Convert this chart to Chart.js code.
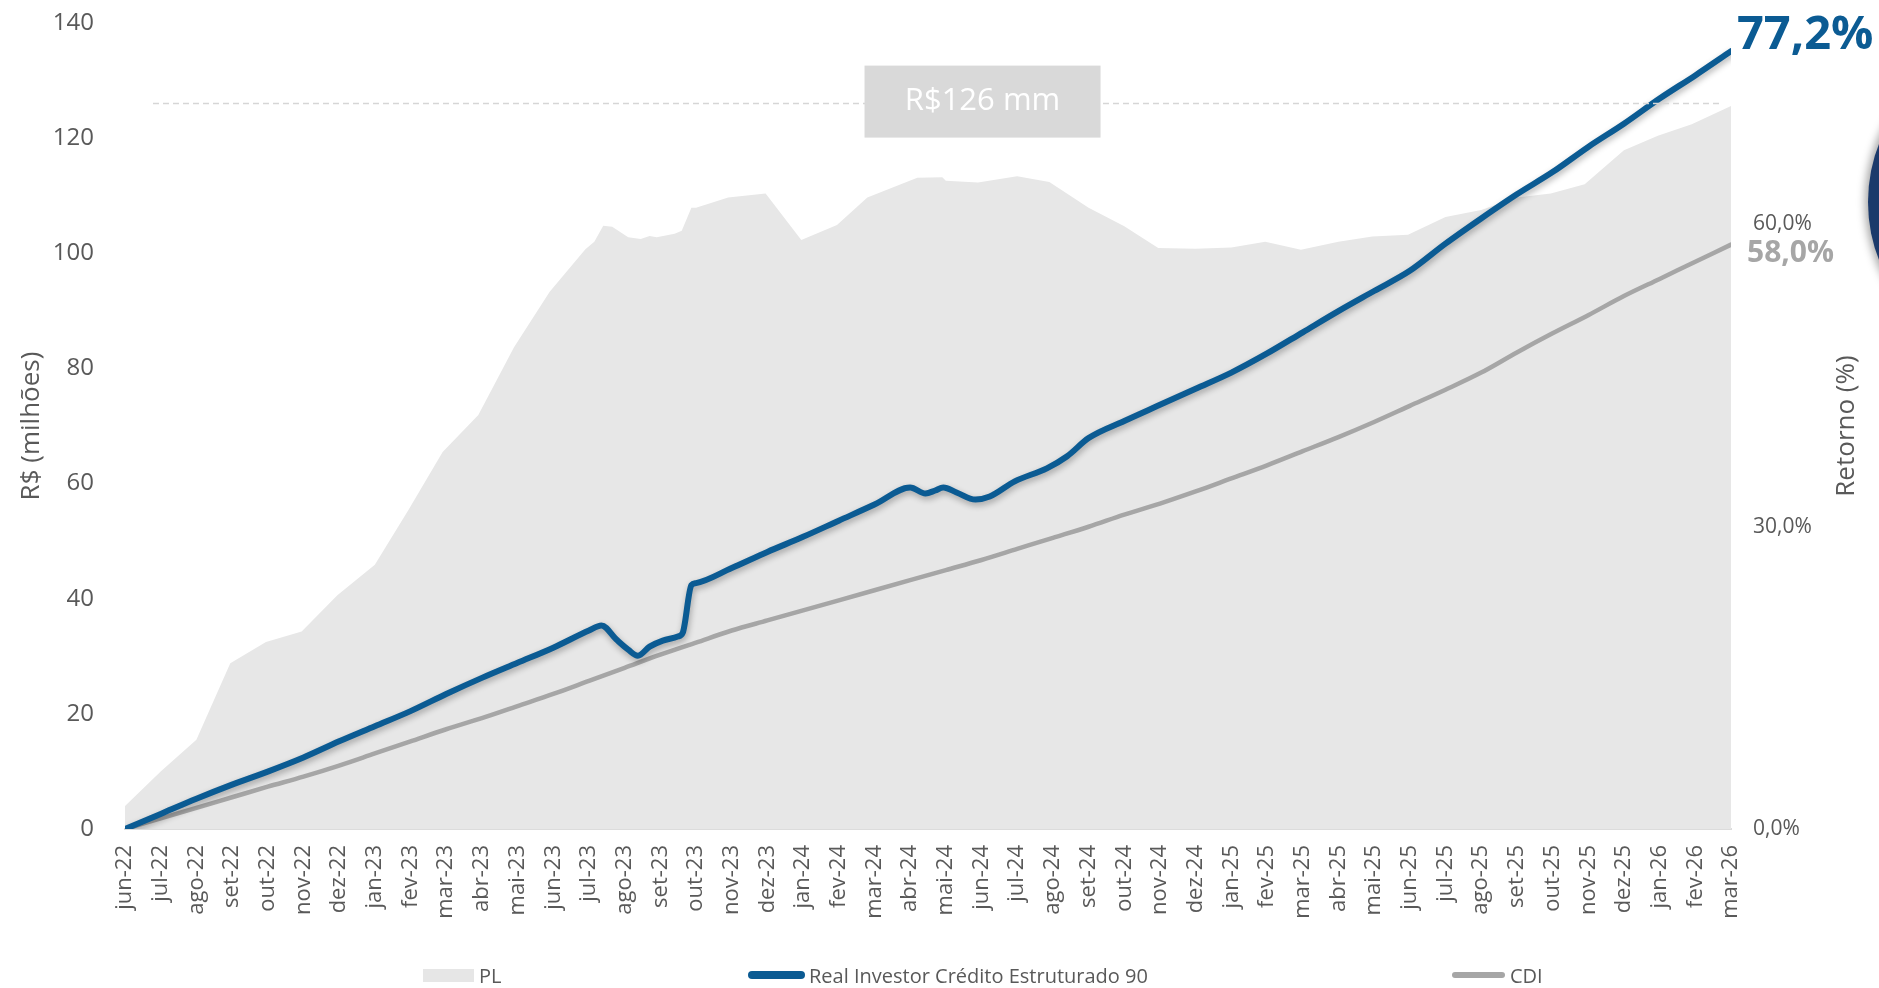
<!DOCTYPE html>
<html lang="pt-BR">
<head>
<meta charset="utf-8">
<title>PL x Retorno</title>
<script src="https://cdn.jsdelivr.net/npm/chart.js@4.4.1/dist/chart.umd.min.js"></script>
<style>
  html, body { margin: 0; padding: 0; background: #fff; }
  #wrap { position: relative; width: 1879px; height: 988px; overflow: hidden; font-family: 'Open Sans', sans-serif; }
  #chart { position: absolute; left: 0; top: 0; }
  .lg { position: absolute; top: 962px; height: 26px; display: flex; align-items: center; font-size: 20px; color: #595959; white-space: nowrap; }
  .lg span { display: inline-block; }
  .logo { position: absolute; left: 1868px; top: 42px; width: 320px; height: 320px; border-radius: 50%;
          background: #1b3a6b; box-shadow: 0 0 8px 3px rgba(0,0,0,0.35); }
</style>
</head>
<body>
<div id="wrap">
  <canvas id="chart" width="1879" height="988"></canvas>
  <div class="lg" style="left:423px"><span style="width:51px;height:13px;background:#e6e6e6;margin-right:5px"></span>PL</div>
  <div class="lg" style="left:748px"><span style="width:57px;height:8px;border-radius:4px;background:#0b5b93;margin-right:4px"></span>Real Investor Crédito Estruturado 90</div>
  <div class="lg" style="left:1452px"><span style="width:53px;height:6px;border-radius:3px;background:#a6a6a6;margin-right:5px"></span>CDI</div>
  <div class="logo"></div>
</div>
<script>
// eixo x: meses
const months = ['jun-22','jul-22','ago-22','set-22','out-22','nov-22','dez-22',
  'jan-23','fev-23','mar-23','abr-23','mai-23','jun-23','jul-23','ago-23','set-23','out-23','nov-23','dez-23',
  'jan-24','fev-24','mar-24','abr-24','mai-24','jun-24','jul-24','ago-24','set-24','out-24','nov-24','dez-24',
  'jan-25','fev-25','mar-25','abr-25','mai-25','jun-25','jul-25','ago-25','set-25','out-25','nov-25','dez-25',
  'jan-26','fev-26','mar-26'];

// PL (R$ milhões) - posição em meses desde jun-22
const plX = [0, 1, 2, 2.95, 3.95, 4.95, 5.95, 7, 7.95, 8.9, 9.9, 10.9, 11.9, 12.9, 13.15, 13.4, 13.65, 14.1, 14.45, 14.7,
  14.9, 15.4, 15.6, 15.87, 16, 16.9, 17.95, 18.95, 19.95, 20.8, 22.2, 22.9, 23, 23.9, 25, 25.9, 27, 28, 28.95, 30,
  31, 31.95, 32.95, 34, 34.95, 35.95, 37, 38, 39, 39.95, 40.9, 42, 42.95, 43.9, 45];
const plY = [4.0, 10.0, 15.5, 28.8, 32.5, 34.3, 40.6, 45.9, 55.5, 65.5, 71.9, 83.7, 93.3, 100.7, 102, 104.8, 104.6, 102.8, 102.5, 103,
  102.8, 103.4, 103.9, 107.9, 107.9, 109.7, 110.4, 102.3, 104.9, 109.7, 113.1, 113.2, 112.6, 112.3, 113.4, 112.4, 107.9, 104.7, 100.9, 100.8,
  101, 102, 100.6, 102, 102.9, 103.2, 106.3, 107.5, 109.7, 110.4, 112, 117.9, 120.4, 122.4, 125.6];

// Retorno do fundo (%)
const fundX = [0, 1, 2, 3, 4, 5, 6, 7, 8, 9, 10, 11, 12, 13,
  13.35, 13.77, 14.1, 14.37, 14.7, 15.07, 15.49, 15.63, 15.87, 16,
  17, 18, 19, 20, 21, 22,
  22.43, 22.7, 22.93, 23.3, 23.83, 24.23, 24.93, 25.83, 26.4,
  27, 28, 29, 30, 31, 32, 33, 34, 35, 36, 37, 38, 39, 40, 41, 42, 43, 44, 45];
const fundY = [0, 1.5, 3.0, 4.4, 5.7, 7.1, 8.7, 10.2, 11.7, 13.4, 15.0, 16.5, 18.0, 19.7,
  20.2, 18.8, 17.8, 17.2, 18.1, 18.7, 19.1, 19.5, 24.2, 24.4,
  25.9, 27.5, 29.0, 30.6, 32.2, 33.9,
  33.3, 33.6, 33.9, 33.4, 32.7, 33.0, 34.5, 35.8, 37.0,
  38.8, 40.5, 42.1, 43.7, 45.3, 47.2, 49.3, 51.4, 53.4, 55.4, 58.1, 60.6, 63.0, 65.2, 67.7, 70.0, 72.5, 74.8, 77.2];

// CDI acumulado (%) - mensal
const cdiY = [0, 1.05, 2.1, 3.15, 4.2, 5.2, 6.3, 7.5, 8.7, 9.9, 11.0, 12.2, 13.4, 14.7, 16.0, 17.3, 18.5, 19.7, 20.7, 21.7,
  22.7, 23.7, 24.7, 25.7, 26.7, 27.8, 28.9, 30.0, 31.2, 32.3, 33.5, 34.8, 36.1, 37.5, 38.9, 40.4, 42.0, 43.6, 45.3, 47.3,
  49.2, 51.0, 52.9, 54.6, 56.3, 58.0];

const plMark = 126;
const leftTicks = [0, 20, 40, 60, 80, 100, 120, 140];
const rightTicks = [0, 30, 60];

const FONT = "'Open Sans', sans-serif";
const pct = v => v.toFixed(1).replace('.', ',') + '%';

// sombra na linha do fundo
const lineShadow = {
  id: 'lineShadow',
  beforeDatasetDraw(chart, args) {
    if (args.index === 1) {
      const ctx = chart.ctx;
      ctx.save();
      ctx.shadowColor = 'rgba(0,0,0,0.3)';
      ctx.shadowBlur = 6;
      ctx.shadowOffsetX = 1;
      ctx.shadowOffsetY = 3;
    }
  },
  afterDatasetDraw(chart, args) {
    if (args.index === 1) chart.ctx.restore();
  }
};

// linha do PL atual, caixa, rótulos finais e título do eixo direito
const overlay = {
  id: 'overlay',
  afterDatasetsDraw(chart) {
    const { ctx, chartArea, scales } = chart;
    const yPL = scales.y.getPixelForValue(plMark);
    ctx.save();
    ctx.strokeStyle = '#d6d6d6';
    ctx.lineWidth = 1.5;
    ctx.setLineDash([6, 4]);
    ctx.beginPath();
    ctx.moveTo(chartArea.left + 28, yPL);
    ctx.lineTo(chartArea.right - 12, yPL);
    ctx.stroke();
    ctx.setLineDash([]);

    const bx = scales.x.getPixelForValue(24);
    ctx.fillStyle = '#d9d9d9';
    ctx.fillRect(bx - 117, yPL - 38, 236, 72);
    ctx.fillStyle = '#ffffff';
    ctx.font = '31px ' + FONT;
    ctx.textAlign = 'center';
    ctx.textBaseline = 'middle';
    ctx.fillText('R$' + plMark + ' mm', bx + 1, yPL - 2);

    const fEnd = scales.y1.getPixelForValue(fundY[fundY.length - 1]);
    const cEnd = scales.y1.getPixelForValue(cdiY[cdiY.length - 1]);
    ctx.textAlign = 'left';
    ctx.textBaseline = 'alphabetic';
    ctx.fillStyle = '#0b5b93';
    ctx.font = 'bold 47px ' + FONT;
    ctx.fillText(pct(fundY[fundY.length - 1]), chartArea.right + 6, fEnd - 2);
    ctx.fillStyle = '#a6a6a6';
    ctx.font = 'bold 30px ' + FONT;
    ctx.fillText(pct(cdiY[cdiY.length - 1]), chartArea.right + 16, cEnd + 17);

    ctx.translate(chartArea.right + 116, (chartArea.top + chartArea.bottom) / 2);
    ctx.rotate(-Math.PI / 2);
    ctx.textAlign = 'center';
    ctx.textBaseline = 'middle';
    ctx.fillStyle = '#595959';
    ctx.font = '26px ' + FONT;
    ctx.fillText('Retorno (%)', 0, 0);
    ctx.restore();
  }
};

new Chart(document.getElementById('chart'), {
  type: 'line',
  data: {
    datasets: [
      {
        label: 'PL',
        data: plX.map((x, i) => ({ x, y: plY[i] })),
        yAxisID: 'y',
        borderWidth: 0,
        backgroundColor: '#e7e7e7',
        fill: 'origin',
        pointRadius: 0,
        tension: 0,
        order: 3
      },
      {
        label: 'Real Investor Crédito Estruturado 90',
        data: fundX.map((x, i) => ({ x, y: fundY[i] })),
        yAxisID: 'y1',
        borderColor: '#0b5b93',
        borderWidth: 6,
        borderCapStyle: 'round',
        borderJoinStyle: 'round',
        pointRadius: 0,
        fill: false,
        cubicInterpolationMode: 'monotone',
        order: 1
      },
      {
        label: 'CDI',
        data: cdiY.map((y, i) => ({ x: i, y })),
        yAxisID: 'y1',
        borderColor: '#a6a6a6',
        borderWidth: 4.5,
        borderCapStyle: 'round',
        pointRadius: 0,
        fill: false,
        cubicInterpolationMode: 'monotone',
        order: 2
      }
    ]
  },
  options: {
    responsive: false,
    animation: false,
    layout: { padding: { top: 23, left: 0, right: 0, bottom: 0 } },
    plugins: {
      legend: { display: false },
      tooltip: { enabled: false }
    },
    scales: {
      x: {
        type: 'linear',
        min: 0,
        max: months.length - 1,
        afterFit: s => { s.height = 159; },
        afterBuildTicks: s => { s.ticks = months.map((m, i) => ({ value: i })); },
        grid: { display: false, drawTicks: false },
        border: { display: true, color: '#dcdcdc', width: 2 },
        ticks: {
          autoSkip: false,
          minRotation: 90,
          maxRotation: 90,
          padding: 16,
          color: '#595959',
          font: { family: FONT, size: 22 },
          callback: v => months[v]
        }
      },
      y: {
        position: 'left',
        min: 0,
        max: 140,
        afterFit: s => { s.width = 125; s.paddingTop = 14; s.paddingBottom = 14; },
        afterBuildTicks: s => { s.ticks = leftTicks.map(v => ({ value: v })); },
        grid: { display: false, drawTicks: false },
        border: { display: false },
        ticks: { padding: 31, color: '#595959', font: { family: FONT, size: 24 } },
        title: {
          display: true,
          text: 'R$ (milhões)',
          color: '#595959',
          font: { family: FONT, size: 26 },
          padding: { top: 16, bottom: 0 }
        }
      },
      y1: {
        position: 'right',
        min: 0,
        max: 80,
        afterFit: s => { s.width = 148; s.paddingTop = 12; s.paddingBottom = 12; },
        afterBuildTicks: s => { s.ticks = rightTicks.map(v => ({ value: v })); },
        grid: { display: false, drawTicks: false },
        border: { display: false },
        ticks: { padding: 22, color: '#595959', font: { family: FONT, size: 21 }, callback: v => pct(v) }
      }
    }
  },
  plugins: [lineShadow, overlay]
});
</script>
</body>
</html>
